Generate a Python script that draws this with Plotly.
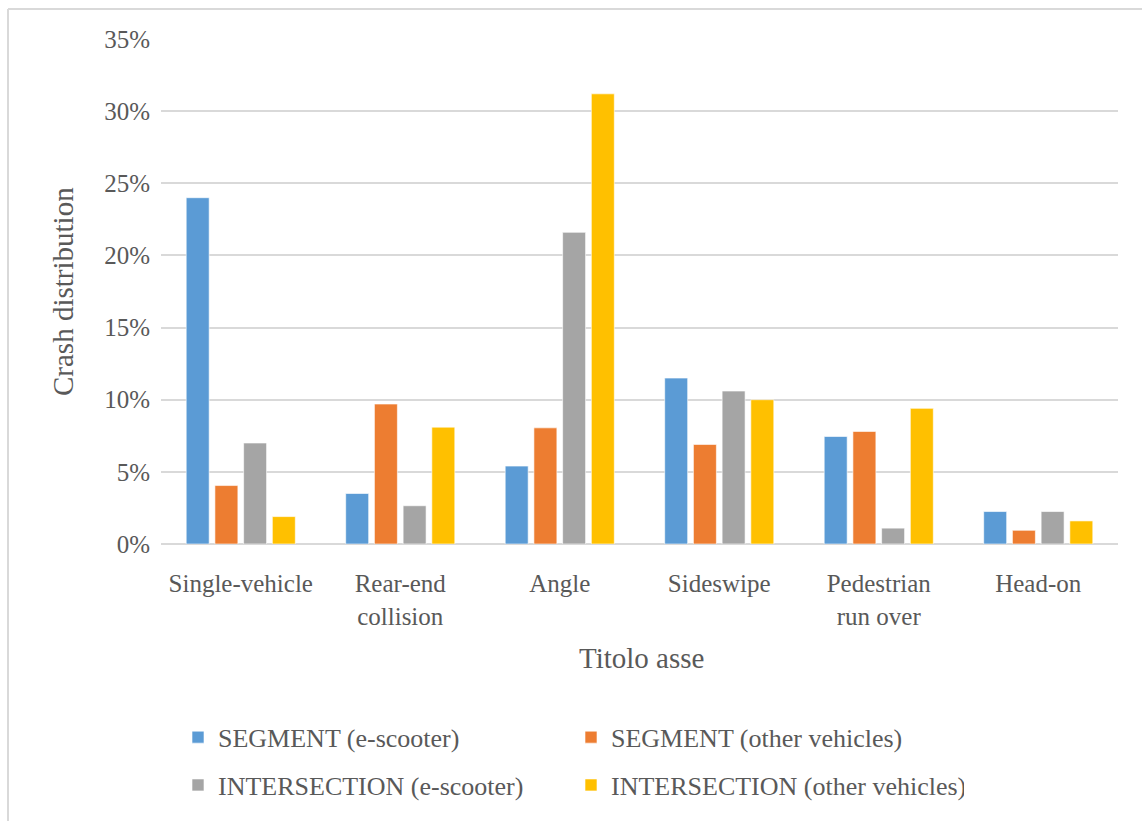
import plotly.graph_objects as go

categories = ["Single-vehicle", "Rear-end<br>collision", "Angle", "Sideswipe", "Pedestrian<br>run over", "Head-on"]
seg_escooter = [24.0, 3.5, 5.4, 11.5, 7.45, 2.25]
seg_other = [4.05, 9.7, 8.05, 6.9, 7.8, 0.95]
int_escooter = [7.0, 2.65, 21.6, 10.6, 1.1, 2.25]
int_other = [1.9, 8.1, 31.2, 10.0, 9.4, 1.6]
y_ticks = [0, 5, 10, 15, 20, 25, 30, 35]
y_ticklabels = ["0%", "5%", "10%", "15%", "20%", "25%", "30%", "35%"]

names = ["SEGMENT (e-scooter)", "SEGMENT (other vehicles)", "INTERSECTION (e-scooter)", "INTERSECTION (other vehicles)"]
colors = ["#5B9BD5", "#ED7D31", "#A5A5A5", "#FFC000"]
series = [seg_escooter, seg_other, int_escooter, int_other]
legends = ["legend", "legend", "legend2", "legend2"]

W, H = 1142, 821
L, R, T, B = 161, 1118, 39, 546
pw, ph = R - L, B - T

def px(x):
    return (x - L) / pw

def py(y):
    return (B - y) / ph

TXT = "#595959"
FONT = "Liberation Serif"

fig = go.Figure()
for name, col, vals, lg in zip(names, colors, series, legends):
    fig.add_trace(go.Bar(
        x=categories, y=vals, name=name, legend=lg,
        marker=dict(color=col, line=dict(color="rgba(255,255,255,0.6)", width=1)),
    ))

leg_common = dict(
    orientation="h", x=px(178), xanchor="left", yanchor="middle",
    font=dict(size=26, color=TXT, family=FONT),
    entrywidth=348, entrywidthmode="pixels", bgcolor="rgba(0,0,0,0)",
    traceorder="normal", itemwidth=30,
)

fig.update_layout(
    width=W, height=H,
    margin=dict(l=L, r=W - R, t=T, b=H - B),
    paper_bgcolor="white", plot_bgcolor="white",
    barmode="group", bargap=0.28, bargroupgap=0.2,
    font=dict(family=FONT, color=TXT),
    xaxis=dict(
        tickfont=dict(size=25, color=TXT, family=FONT),
        showgrid=False, showline=False, ticks="", ticklabelstandoff=22,
    ),
    yaxis=dict(
        range=[0, 35], tickvals=y_ticks, ticktext=y_ticklabels,
        tickfont=dict(size=25, color=TXT, family=FONT),
        showgrid=True, gridcolor="#D9D9D9", gridwidth=2,
        zeroline=True, zerolinecolor="#D9D9D9", zerolinewidth=2,
        showline=False, ticks="", ticklabelstandoff=10,
    ),
    legend=dict(leg_common, y=py(740)),
    legend2=dict(leg_common, y=py(788)),
    annotations=[
        dict(text="Crash distribution", x=px(63), y=py(293), xref="paper", yref="paper",
             textangle=-90, showarrow=False, font=dict(size=29, color=TXT, family=FONT),
             xanchor="center", yanchor="middle"),
        dict(text="Titolo asse", x=px(641), y=py(660), xref="paper", yref="paper",
             showarrow=False, font=dict(size=29, color=TXT, family=FONT),
             xanchor="center", yanchor="middle"),
    ],
    shapes=[
        dict(type="line", xref="paper", yref="paper", x0=px(8), x1=px(8), y0=py(9), y1=py(830),
             line=dict(color="#D9D9D9", width=2)),
        dict(type="line", xref="paper", yref="paper", x0=px(8), x1=px(1150), y0=py(9), y1=py(9),
             line=dict(color="#D9D9D9", width=2)),
    ],
)

fig.write_html("out.html")
